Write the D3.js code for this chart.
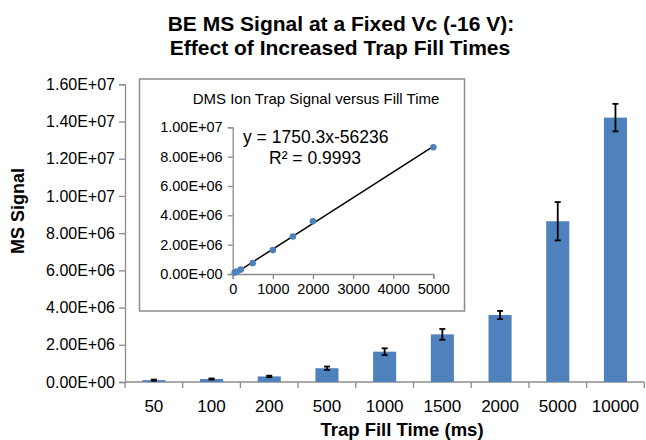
<!DOCTYPE html>
<html>
<head>
<meta charset="utf-8">
<script src="https://cdn.jsdelivr.net/npm/d3@7"></script>
<style>
  body { margin: 0; background: #fff; }
  text { font-family: "Liberation Sans", Arial, sans-serif; fill: #000; }
</style>
</head>
<body>
<script>
// Data
const categories = ["50", "100", "200", "500", "1000", "1500", "2000", "5000", "10000"];
const fillTimes = [50, 100, 200, 500, 1000, 1500, 2000, 5000, 10000];
const signal = [1.0e5, 1.6e5, 3.0e5, 7.4e5, 1.63e6, 2.56e6, 3.60e6, 8.64e6, 1.421e7];
const signalErr = [3e4, 3e4, 4e4, 9e4, 1.8e5, 2.9e5, 2.2e5, 1.03e6, 7.4e5];
const mainTicks = [0, 2e6, 4e6, 6e6, 8e6, 1e7, 1.2e7, 1.4e7, 1.6e7];
const insetYTicks = [0, 2e6, 4e6, 6e6, 8e6, 1e7];
const insetXTicks = [0, 1000, 2000, 3000, 4000, 5000];
// Trendline as printed on the chart
const trendSlope = 1750.3;
const trendIntercept = -56236;

// Customizable Constants
const WIDTH = 646;
const HEIGHT = 440;
const BAR_COLOR = "#4f81bd";
const AXIS_COLOR = "#8c8c8c";

var fmtExp = function(v)
{
  // Excel style 0.00E+00
  let s = v.toExponential(2).toUpperCase();
  return s.replace(/E([+-])(\d)$/, "E$10$2");
}

var svg = d3.select("body").append("svg")
  .attr("width", WIDTH)
  .attr("height", HEIGHT);

// Title
var title = svg.append("text")
  .attr("text-anchor", "middle")
  .attr("font-weight", "bold")
  .attr("font-size", 21);
title.append("tspan").attr("x", 341).attr("y", 31).text("BE MS Signal at a Fixed Vc (-16 V):");
title.append("tspan").attr("x", 340).attr("y", 55).text("Effect of Increased Trap Fill Times");

// Main scales
var x = d3.scaleBand().domain(categories).range([125, 644.3]).padding(0);
var y = d3.scaleLinear().domain([0, 1.6e7]).range([382, 84.3]);

// Y axis
var yAxis = svg.append("g")
  .attr("transform", "translate(125,0)")
  .call(d3.axisLeft(y).tickValues(mainTicks).tickFormat(fmtExp).tickSize(6).tickPadding(4));
yAxis.selectAll("line, path").attr("stroke", AXIS_COLOR).attr("stroke-width", 1.3);
yAxis.selectAll("text").attr("font-size", 16).attr("fill", "#000");

// X axis: ticks on the category boundaries
var xAxis = svg.append("g");
xAxis.append("line")
  .attr("x1", x.range()[0]).attr("x2", x.range()[1])
  .attr("y1", y(0)).attr("y2", y(0))
  .attr("stroke", AXIS_COLOR).attr("stroke-width", 1.3);
var edges = categories.map(c => x(c)).concat([x.range()[1]]);
xAxis.selectAll(".xtick").data(edges).enter().append("line")
  .attr("x1", d => d).attr("x2", d => d)
  .attr("y1", y(0)).attr("y2", y(0) + 6)
  .attr("stroke", AXIS_COLOR).attr("stroke-width", 1.3);
xAxis.selectAll(".xlabel").data(categories).enter().append("text")
  .attr("x", d => x(d) + x.bandwidth() / 2)
  .attr("y", 412)
  .attr("text-anchor", "middle")
  .attr("font-size", 17)
  .text(d => d);

// Axis titles
svg.append("text")
  .attr("x", 402).attr("y", 436)
  .attr("text-anchor", "middle")
  .attr("font-weight", "bold")
  .attr("font-size", 18.5)
  .text("Trap Fill Time (ms)");
svg.append("text")
  .attr("transform", "translate(24,211) rotate(-90)")
  .attr("text-anchor", "middle")
  .attr("font-weight", "bold")
  .attr("font-size", 18)
  .text("MS Signal");

// Bars
var barW = x.bandwidth() * 0.4;
svg.selectAll(".bar").data(categories).enter().append("rect")
  .attr("x", d => x(d) + (x.bandwidth() - barW) / 2)
  .attr("y", (d, i) => y(signal[i]))
  .attr("width", barW)
  .attr("height", (d, i) => y(0) - y(signal[i]))
  .attr("fill", BAR_COLOR);

// Error bars
var errG = svg.append("g").attr("stroke", "#000").attr("stroke-width", 1.8);
categories.forEach(function(c, i)
{
  let cx = x(c) + x.bandwidth() / 2;
  let top = y(signal[i] + signalErr[i]);
  let bot = y(signal[i] - signalErr[i]);
  errG.append("line").attr("x1", cx).attr("x2", cx).attr("y1", top).attr("y2", bot);
  errG.append("line").attr("x1", cx - 3).attr("x2", cx + 3).attr("y1", top).attr("y2", top);
  errG.append("line").attr("x1", cx - 3).attr("x2", cx + 3).attr("y1", bot).attr("y2", bot);
});

// Inset chart
svg.append("rect")
  .attr("x", 139.5).attr("y", 79)
  .attr("width", 325).attr("height", 232)
  .attr("fill", "#fff")
  .attr("stroke", AXIS_COLOR).attr("stroke-width", 1.5);

svg.append("text")
  .attr("x", 316).attr("y", 104)
  .attr("text-anchor", "middle")
  .attr("font-size", 15)
  .text("DMS Ion Trap Signal versus Fill Time");

var ix = d3.scaleLinear().domain([0, 5000]).range([232.7, 433.3]);
var iy = d3.scaleLinear().domain([0, 1e7]).range([274, 127.3]);

var iyAxis = svg.append("g")
  .attr("transform", "translate(" + ix(0) + ",0)")
  .call(d3.axisLeft(iy).tickValues(insetYTicks).tickFormat(fmtExp).tickSize(5).tickPadding(5));
var ixAxis = svg.append("g")
  .attr("transform", "translate(0," + iy(0) + ")")
  .call(d3.axisBottom(ix).tickValues(insetXTicks).tickFormat(d3.format("d")).tickSize(5).tickPadding(5));
[iyAxis, ixAxis].forEach(function(g)
{
  g.selectAll("line, path").attr("stroke", AXIS_COLOR).attr("stroke-width", 1.3);
  g.selectAll("text").attr("font-size", 14.5).attr("fill", "#000");
});

// Trendline over the data range
var insetTimes = fillTimes.slice(0, 8);
var insetSignal = signal.slice(0, 8);
var tMin = d3.min(insetTimes), tMax = d3.max(insetTimes);
svg.append("line")
  .attr("x1", ix(tMin)).attr("y1", iy(trendSlope * tMin + trendIntercept))
  .attr("x2", ix(tMax)).attr("y2", iy(trendSlope * tMax + trendIntercept))
  .attr("stroke", "#000").attr("stroke-width", 1.5);

svg.selectAll(".pt").data(insetTimes).enter().append("circle")
  .attr("cx", d => ix(d))
  .attr("cy", (d, i) => iy(insetSignal[i]))
  .attr("r", 3.3)
  .attr("fill", BAR_COLOR);

// Trendline label
svg.append("text")
  .attr("x", 243).attr("y", 143)
  .attr("font-size", 17.5)
  .text("y = " + trendSlope + "x" + trendIntercept);
svg.append("text")
  .attr("x", 269).attr("y", 164)
  .attr("font-size", 17.5)
  .text("R² = 0.9993");
</script>
</body>
</html>
